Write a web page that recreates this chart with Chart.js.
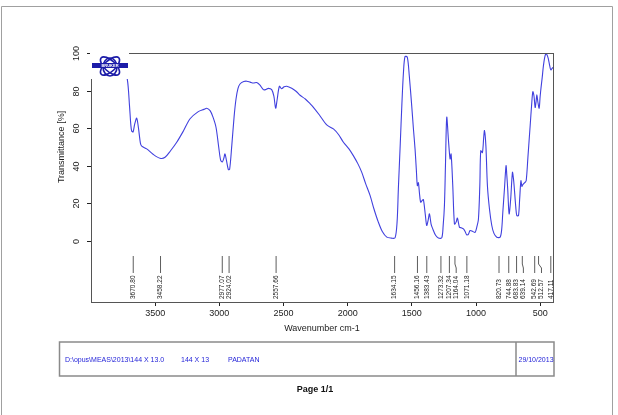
<!DOCTYPE html>
<html lang="en">
<head>
<meta charset="UTF-8" />
<title>FTIR spectrum - PADATAN</title>
<script src="https://cdn.jsdelivr.net/npm/chart.js"></script>
<style>
  html, body { margin: 0; padding: 0; background: #fff; }
  canvas { display: block; }
</style>
</head>
<body>
<canvas id="spectrum" width="618" height="415"></canvas>
<script>
  // spectrum (cm-1 / %T)
  const wavenumbers = [
    4000, 3900, 3800, 3740, 3717, 3700, 3690, 3683, 3672, 3660, 3644, 3630, 3615, 3605, 3566, 3514,
    3462, 3423, 3380, 3332, 3280, 3228, 3164, 3120, 3098, 3072, 3050, 3026, 3005, 2990, 2977, 2965,
    2956, 2945, 2930, 2920, 2903, 2885, 2870, 2855, 2839, 2810, 2786, 2760, 2735, 2709, 2685, 2657,
    2640, 2618, 2592, 2575, 2561, 2550, 2532, 2515, 2495, 2475, 2436, 2400, 2371, 2330, 2293, 2267,
    2220, 2163, 2111, 2070, 2033, 1990, 1956, 1920, 1890, 1860, 1825, 1795, 1761, 1730, 1695, 1660,
    1631, 1615, 1605, 1590, 1578, 1565, 1553, 1535, 1520, 1501, 1488, 1475, 1465, 1457, 1449, 1440,
    1431, 1420, 1410, 1395, 1384, 1373, 1363, 1350, 1337, 1315, 1293, 1267, 1256, 1246, 1238, 1228,
    1215, 1202, 1194, 1181, 1168, 1155, 1145, 1129, 1115, 1098, 1085, 1072, 1060, 1046, 1025, 1007,
    995, 981, 970, 963, 950, 940, 934, 923, 911, 895, 877, 860, 838, 812, 800, 791,
    778, 766, 760, 753, 742, 730, 716, 708, 703, 690, 682, 669, 660, 650, 642, 635,
    620, 609, 595, 578, 567, 557, 548, 539, 532, 526, 518, 508, 500, 493, 484, 475,
    465, 456, 446, 436, 425, 417, 405, 400
  ];
  const transmittance = [
    91, 91.5, 90.5, 89, 86, 72, 62, 58.5, 58, 62, 65.3, 60, 52, 50.4, 49, 46,
    44, 44.5, 48, 52.5, 58.5, 65, 68.8, 70, 70.6, 69.3, 66, 60.5, 50, 43, 42, 44,
    46.3, 43, 38, 38, 50.7, 66, 75.5, 81, 83.5, 84.8, 85, 84.5, 84, 84.3, 83, 80.5,
    80.5, 81.2, 80.5, 77, 70.6, 75, 82.3, 81, 82, 82.3, 81.2, 79.5, 77.5, 75.5, 73, 71.1,
    67, 61.7, 59.6, 56.5, 52.5, 49, 45.4, 41, 36.5, 30.5, 24.1, 17, 10, 5, 2, 1.5,
    1.6, 10, 27.7, 52, 72, 90, 98.2, 97.7, 88, 72, 60, 49, 38, 29.4, 31, 25,
    20.6, 21.5, 22, 14, 8.2, 11, 14.4, 9, 6.4, 3, 1.6, 1.6, 8, 18.8, 40, 65.8,
    54, 43.6, 46.3, 29.4, 9, 10, 12.2, 7.3, 7, 6.4, 5, 3.2, 3.5, 5.5, 5, 4.6,
    7, 11.7, 30, 48, 47, 55, 58.7, 50.7, 29.4, 17, 8.2, 4, 2, 2, 6, 15.3,
    28, 40, 35, 27.7, 14.4, 22, 36.5, 33, 29.4, 18, 13.5, 13.5, 22, 32, 29, 30,
    31, 32, 45, 61.3, 72, 79.4, 77, 71, 74, 77.7, 74, 70.6, 77, 81.7, 87, 93,
    97.5, 99.5, 99, 96.8, 93, 91, 92, 92.4
  ];
  const xTicks = [3500, 3000, 2500, 2000, 1500, 1000, 500];
  const yTicks = [0, 20, 40, 60, 80, 100];
  const peakLabels = [
    3670.80, 3458.22, 2977.07, 2924.02, 2557.66, 1634.15, 1456.16, 1383.43, 1273.32, 1207.34,
    1164.04, 1071.18, 820.73, 744.88, 683.83, 639.14, 542.69, 512.57, 417.11
  ];
  const footerFields = ['D:\\opus\\MEAS\\2013\\144 X 13.0', '144 X 13', 'PADATAN'];
  const footerDate = '29/10/2013';

  const FONT = "'Liberation Sans', Arial, Helvetica, sans-serif";
  const LINE_BLUE = '#4040de';
  const TEXT_BLUE = '#2424d8';

  function drawLogo(ctx, cx, cy) {
    // white patch hides the corner of the frame, like the printout
    ctx.fillStyle = '#fff';
    ctx.fillRect(cx - 20, cy - 13, 39, 26);
    ctx.strokeStyle = '#1c1ca8';
    ctx.lineWidth = 1.6;
    [0.75, -0.75].forEach(a => {
      ctx.beginPath();
      ctx.ellipse(cx, cy, 12, 5.5, a, 0, Math.PI * 2);
      ctx.stroke();
    });
    ctx.beginPath();
    ctx.ellipse(cx, cy + 1, 7, 9, 0, 0, Math.PI * 2);
    ctx.stroke();
    ctx.fillStyle = '#1c1ca8';
    ctx.fillRect(cx - 18, cy - 3, 36, 5);
    ctx.fillStyle = '#fff';
    ctx.font = 'bold 4px ' + FONT;
    ctx.textAlign = 'center';
    ctx.textBaseline = 'middle';
    ctx.fillText('BRUKER', cx, cy - 0.5);
  }

  const printoutDecor = {
    id: 'printoutDecor',
    afterDraw(chart) {
      const { ctx, chartArea: a, scales: { x, y } } = chart;
      ctx.save();

      // page border
      ctx.strokeStyle = '#a0a0a0';
      ctx.lineWidth = 1;
      ctx.beginPath();
      ctx.moveTo(1.5, 420); ctx.lineTo(1.5, 6.5); ctx.lineTo(612.5, 6.5); ctx.lineTo(612.5, 420);
      ctx.stroke();

      // plot frame
      ctx.strokeStyle = '#555';
      ctx.lineWidth = 1;
      ctx.strokeRect(a.left + 0.5, a.top + 0.5, a.right - a.left, a.bottom - a.top);

      // y axis ticks, rotated labels, title
      ctx.strokeStyle = '#222';
      ctx.fillStyle = '#222';
      ctx.font = '9px ' + FONT;
      ctx.textAlign = 'center';
      ctx.textBaseline = 'middle';
      yTicks.forEach(v => {
        const py = Math.round(y.getPixelForValue(v)) + 0.5;
        ctx.beginPath();
        ctx.moveTo(a.left - 4, py); ctx.lineTo(a.left, py);
        ctx.stroke();
        ctx.save();
        ctx.translate(a.left - 14, py);
        ctx.rotate(-Math.PI / 2);
        ctx.fillText(String(v), 0, 0);
        ctx.restore();
      });
      const midY = (y.getPixelForValue(0) + y.getPixelForValue(100)) / 2;
      ctx.save();
      ctx.translate(a.left - 29, midY);
      ctx.rotate(-Math.PI / 2);
      ctx.fillText('Transmittance [%]', 0, 0);
      ctx.restore();

      // peak markers with leader lines
      const px = peakLabels.map(p => x.getPixelForValue(p));
      const lx = [];
      px.forEach((v, i) => lx.push(i && v < lx[i - 1] + 6.8 ? lx[i - 1] + 6.8 : v));
      const top = a.bottom - 46, kink1 = a.bottom - 38, kink2 = a.bottom - 34, end = a.bottom - 29;
      ctx.strokeStyle = '#333';
      ctx.lineWidth = 0.8;
      ctx.font = '6.5px ' + FONT;
      ctx.textAlign = 'left';
      peakLabels.forEach((p, i) => {
        ctx.beginPath();
        if (Math.abs(lx[i] - px[i]) > 0.6) {
          ctx.moveTo(px[i], top); ctx.lineTo(px[i], kink1);
          ctx.lineTo(lx[i], kink2); ctx.lineTo(lx[i], end);
        } else {
          ctx.moveTo(px[i], top); ctx.lineTo(px[i], end);
        }
        ctx.stroke();
        ctx.save();
        ctx.translate(lx[i], a.bottom - 3);
        ctx.rotate(-Math.PI / 2);
        ctx.fillText(p.toFixed(2), 0, 0);
        ctx.restore();
      });

      drawLogo(ctx, a.left + 19, a.top + 13);

      // footer box
      ctx.strokeStyle = '#8a8a8a';
      ctx.lineWidth = 1.5;
      ctx.strokeRect(59.5, 342, 494.5, 34);
      ctx.beginPath();
      ctx.moveTo(516, 342); ctx.lineTo(516, 376);
      ctx.stroke();
      ctx.fillStyle = TEXT_BLUE;
      ctx.font = '7px ' + FONT;
      ctx.textAlign = 'left';
      ctx.textBaseline = 'middle';
      [65, 181, 228].forEach((fx, i) => ctx.fillText(footerFields[i], fx, 360));
      ctx.fillText(footerDate, 518.5, 360);
      ctx.fillStyle = '#111';
      ctx.font = 'bold 9px ' + FONT;
      ctx.textAlign = 'center';
      ctx.fillText('Page 1/1', 315, 390);

      ctx.restore();
    }
  };

  new Chart(document.getElementById('spectrum'), {
    type: 'line',
    data: {
      datasets: [{
        data: wavenumbers.map((w, i) => ({ x: w, y: transmittance[i] })),
        borderColor: LINE_BLUE,
        borderWidth: 1.1,
        pointRadius: 0,
        tension: 0.3,
        fill: false
      }]
    },
    options: {
      responsive: false,
      animation: false,
      layout: { padding: { left: 91, top: 53, right: 65, bottom: 81 } },
      plugins: { legend: { display: false }, tooltip: { enabled: false } },
      scales: {
        x: {
          type: 'linear',
          reverse: true,
          min: 400,
          max: 4000,
          afterBuildTicks: s => { s.ticks = xTicks.map(v => ({ value: v })); },
          afterFit: s => { s.height = 32; },
          border: { display: false },
          grid: { drawOnChartArea: false, drawTicks: true, tickLength: 4, tickColor: '#222' },
          ticks: {
            color: '#222', font: { family: FONT, size: 9 }, padding: 2, maxRotation: 0, autoSkip: false,
            callback: v => String(v)
          },
          title: { display: true, text: 'Wavenumber cm-1', color: '#222', font: { family: FONT, size: 9 }, padding: 0 }
        },
        y: { display: false, min: -32.5, max: 100 }
      }
    },
    plugins: [printoutDecor]
  });
</script>
</body>
</html>
